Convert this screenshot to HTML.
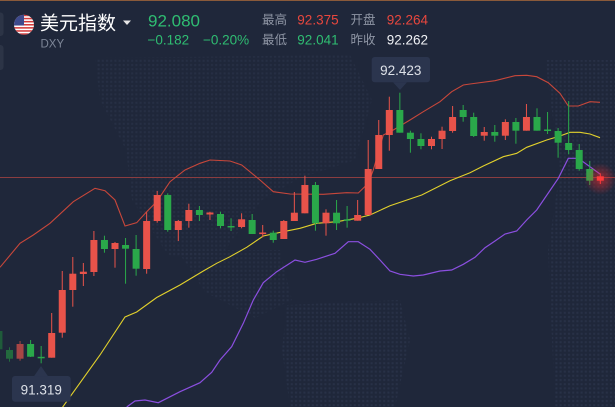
<!DOCTYPE html>
<html><head><meta charset="utf-8"><style>
html,body{margin:0;padding:0;background:#1f273a;width:615px;height:407px;overflow:hidden}
svg{display:block}
text{font-family:"Liberation Sans","Noto Sans CJK SC",sans-serif}
</style></head><body>
<svg width="615" height="407" viewBox="0 0 615 407" xmlns="http://www.w3.org/2000/svg">
<defs>
<pattern id="dots" width="4.2" height="4.2" patternUnits="userSpaceOnUse"><rect x="1" y="1" width="2" height="2" fill="#283147"/></pattern>
<radialGradient id="glow" cx="0.5" cy="0.5" r="0.5"><stop offset="0" stop-color="#ff2a2a" stop-opacity="0.55"/><stop offset="1" stop-color="#ff2a2a" stop-opacity="0"/></radialGradient>
<clipPath id="fc"><circle cx="24" cy="24.7" r="10"/></clipPath>
</defs>
<rect width="615" height="407" fill="#1f273a"/>
<!-- dotted map -->
<polygon points="95,58 350,55 372,100 355,160 300,178 262,200 225,250 200,258 168,255 132,200 126,150 100,100" fill="url(#dots)" opacity="0.8"/>
<polygon points="177,250 280,250 292,300 255,318 205,292" fill="url(#dots)" opacity="0.8"/>
<polygon points="287,305 400,300 410,340 395,407 290,407 282,350" fill="url(#dots)"/>
<polygon points="545,60 615,60 615,407 555,407 548,250 560,170" fill="url(#dots)"/>
<!-- top border -->
<rect x="0" y="0" width="615" height="1" fill="#8a5a3a"/>
<!-- left tabs -->
<rect x="-4" y="12.5" width="7.5" height="23.5" rx="3" fill="#2c3446"/>
<rect x="-4" y="45" width="7.5" height="25" rx="3" fill="#2c3446"/>
<!-- horizontal price line -->
<rect x="0" y="177" width="615" height="1" fill="#8b3d40"/>
<!-- bands -->
<polyline fill="none" stroke="#c8473a" stroke-width="1.1" points="0,267.3 20,243.3 33.3,235 50,223.3 73.3,201.7 95,188.3 105,190.7 115,200 125,226 136.7,222.7 146.7,211.7 156.7,201.7 170,181.7 185,170 200,163.3 210,160 230,161 241.7,165 260,180 273.3,191.7 290,194 323.3,194.3 346.7,192.7 358.3,193 368.3,183.3 373.3,170 383.3,135 393.3,130 410,120 423.3,111.7 440,101.7 451.7,91.7 463.3,85 470,84 495,80.7 515,75.7 526.7,75.3 536.7,76.7 548.3,82.7 560,93.3 568.3,106 578.3,106 590,101.7 600,102.3"/>
<polyline fill="none" stroke="#e2d12c" stroke-width="1.1" points="62,408 100,355 125,317 136.7,312 156.7,297.5 180,285 203.3,271 216.7,263.3 230,256.7 246.7,247.3 263.3,236 283.3,231.7 300,228.3 316.7,223.3 336.7,221.7 356.7,218.3 370,215 390,205.7 421.7,195 450,180.7 470,172.7 483.3,166 503.3,156.7 516.7,153.3 526.7,147.3 546.7,140 560,136 570,132.3 580,132.3 590,134 600,137.7"/>
<polyline fill="none" stroke="#8b4fe0" stroke-width="1.2" points="126.7,407 135,401 145,400 158.3,402.7 180,391.7 200,382.7 211.7,372.3 220,360 231.7,346.7 243.3,323.3 253.3,300 263.3,282.7 276.7,271.7 295,260 305,262.3 316.7,259.3 335,253.3 348.3,241.7 358.3,241.7 370,249.3 380,260 390,271 400,274.3 413.3,276 423.3,275 440,271 451.7,270 463.3,264.3 475,257.3 485,247.7 495,241 505,234 516.7,231 526.7,220 536.7,210 558.3,178.3 568.3,158.3 578.3,158.3 600,174"/>
<!-- dim candles -->
<g fill="#1f5b3a"><rect x="-1.55" y="329" width="1" height="22"/><rect x="-4.55" y="331" width="7" height="18.3"/></g>
<g fill="#236a3e"><rect x="9" y="347.3" width="1" height="14.4"/><rect x="6" y="350" width="7" height="8.7"/></g>
<g fill="#a84545"><rect x="19.55" y="341" width="1" height="19.7"/><rect x="16.55" y="344" width="7" height="14.7"/></g>
<!-- red candles -->
<g fill="#e8534a">
<rect x="51.2" y="313" width="1" height="44.7"/><rect x="48.2" y="333" width="7" height="24.7"/>
<rect x="61.75" y="271" width="1" height="66.7"/><rect x="58.75" y="290" width="7" height="42.7"/>
<rect x="72.3" y="257" width="1" height="49.7"/><rect x="69.3" y="273.7" width="7" height="16.3"/>
<rect x="82.85" y="263" width="1" height="23"/><rect x="79.85" y="271.7" width="7" height="2.3"/>
<rect x="93.4" y="231" width="1" height="45"/><rect x="90.4" y="240" width="7" height="32"/>
<rect x="114.5" y="242" width="1" height="25.7"/><rect x="111.5" y="243" width="7" height="6"/>
<rect x="146.15" y="212.3" width="1" height="61.4"/><rect x="143.15" y="221" width="7" height="48"/>
<rect x="156.7" y="191" width="1" height="31.7"/><rect x="153.7" y="195" width="7" height="26"/>
<rect x="177.8" y="220" width="1" height="21"/><rect x="174.8" y="221" width="7" height="9"/>
<rect x="188.35" y="203.7" width="1" height="24"/><rect x="185.35" y="210" width="7" height="11"/>
<rect x="209.45" y="211.7" width="1" height="8.3"/><rect x="206.45" y="212.5" width="7" height="2"/>
<rect x="241.1" y="213.3" width="1" height="15"/><rect x="238.1" y="219.3" width="7" height="7.7"/>
<rect x="262.2" y="225" width="1" height="12.3"/><rect x="259.2" y="232.5" width="7" height="1.6"/>
<rect x="283.3" y="220" width="1" height="19"/><rect x="280.3" y="221" width="7" height="18"/>
<rect x="293.85" y="192" width="1" height="29"/><rect x="290.85" y="212.7" width="7" height="8.3"/>
<rect x="304.4" y="175.7" width="1" height="37.6"/><rect x="301.4" y="185" width="7" height="28.3"/>
<rect x="325.5" y="209.3" width="1" height="26.4"/><rect x="322.5" y="212.7" width="7" height="10.6"/>
<rect x="357.15" y="200" width="1" height="20.7"/><rect x="354.15" y="215" width="7" height="5.7"/>
<rect x="367.7" y="140" width="1" height="75"/><rect x="364.7" y="169" width="7" height="46"/>
<rect x="378.25" y="120" width="1" height="49"/><rect x="375.25" y="135" width="7" height="34"/>
<rect x="388.8" y="96.7" width="1" height="54"/><rect x="385.8" y="110" width="7" height="25"/>
<rect x="431" y="136.7" width="1" height="12.6"/><rect x="428" y="139" width="7" height="7"/>
<rect x="441.55" y="126.7" width="1" height="22.3"/><rect x="438.55" y="130.7" width="7" height="8.3"/>
<rect x="452.1" y="106" width="1" height="26.7"/><rect x="449.1" y="117" width="7" height="14"/>
<rect x="483.75" y="127" width="1" height="13.7"/><rect x="480.75" y="132" width="7" height="3.7"/>
<rect x="504.85" y="119.3" width="1" height="20.7"/><rect x="501.85" y="122" width="7" height="13.7"/>
<rect x="525.95" y="104" width="1" height="26.7"/><rect x="522.95" y="117" width="7" height="13.7"/>
</g>
<!-- green candles -->
<g fill="#2aa84a">
<rect x="30.1" y="340" width="1" height="17"/><rect x="27.1" y="344" width="7" height="12.7"/>
<rect x="40.65" y="346" width="1" height="17.3"/><rect x="37.65" y="356.8" width="7" height="1.5"/>
<rect x="103.95" y="235.7" width="1" height="17"/><rect x="100.95" y="240" width="7" height="9"/>
<rect x="125.05" y="238" width="1" height="45.7"/><rect x="122.05" y="245" width="7" height="3.7"/>
<rect x="135.6" y="235" width="1" height="40.7"/><rect x="132.6" y="249" width="7" height="19.7"/>
<rect x="167.25" y="193.3" width="1" height="38.4"/><rect x="164.25" y="195" width="7" height="35"/>
<rect x="198.9" y="206" width="1" height="15"/><rect x="195.9" y="210" width="7" height="5"/>
<rect x="220" y="211.7" width="1" height="16.6"/><rect x="217" y="214" width="7" height="12"/>
<rect x="230.55" y="218.3" width="1" height="12.7"/><rect x="227.55" y="226" width="7" height="1.5"/>
<rect x="251.65" y="214" width="1" height="20"/><rect x="248.65" y="220" width="7" height="14"/>
<rect x="272.75" y="230.7" width="1" height="12"/><rect x="269.75" y="232.7" width="7" height="7.3"/>
<rect x="314.95" y="182" width="1" height="48.7"/><rect x="311.95" y="185" width="7" height="38.3"/>
<rect x="336.05" y="200" width="1" height="30"/><rect x="333.05" y="212.7" width="7" height="10.6"/>
<rect x="346.6" y="206" width="1" height="21.7"/><rect x="343.6" y="219.3" width="7" height="1.5"/>
<rect x="399.35" y="92.7" width="1" height="40"/><rect x="396.35" y="110" width="7" height="22.7"/>
<rect x="409.9" y="130.7" width="1" height="22"/><rect x="406.9" y="132.7" width="7" height="6.3"/>
<rect x="420.45" y="133.3" width="1" height="16"/><rect x="417.45" y="139" width="7" height="7"/>
<rect x="462.65" y="105" width="1" height="16.7"/><rect x="459.65" y="110" width="7" height="7"/>
<rect x="473.2" y="112.7" width="1" height="24.3"/><rect x="470.2" y="117" width="7" height="19"/>
<rect x="494.3" y="125" width="1" height="16.7"/><rect x="491.3" y="132" width="7" height="3.7"/>
<rect x="515.4" y="118" width="1" height="25.7"/><rect x="512.4" y="122" width="7" height="8.7"/>
<rect x="536.5" y="108.3" width="1" height="22.4"/><rect x="533.5" y="117" width="7" height="13.7"/>
<rect x="547.05" y="112" width="1" height="22"/><rect x="544.05" y="129.5" width="7" height="1.5"/>
<rect x="557.6" y="128" width="1" height="29.7"/><rect x="554.6" y="131" width="7" height="11.7"/>
<rect x="568.15" y="101" width="1" height="53.3"/><rect x="565.15" y="143" width="7" height="7"/>
<rect x="578.7" y="144" width="1" height="26.7"/><rect x="575.7" y="150" width="7" height="19"/>
<rect x="589.25" y="161" width="1" height="24"/><rect x="586.25" y="169" width="7" height="11.7"/>
</g>
<!-- last candle with glow -->
<circle cx="600.3" cy="179" r="16" fill="url(#glow)"/>
<g fill="#ff3b3b"><rect x="599.8" y="173.3" width="1" height="10.7"/><rect x="596.8" y="176.3" width="7" height="4.4"/></g>
<!-- labels -->
<rect x="371.7" y="57" width="58.3" height="25.3" rx="3" fill="#2b354e"/>
<polygon points="393,82.3 407,82.3 400,90" fill="#2b354e"/>
<text x="400.8" y="75" font-size="13.5" fill="#dde1e8" text-anchor="middle">92.423</text>
<rect x="12" y="376" width="58.7" height="25.7" rx="3" fill="#2b354e"/>
<polygon points="34,376.2 48,376.2 41,366" fill="#2b354e"/>
<text x="41.3" y="394.3" font-size="13.5" fill="#dde1e8" text-anchor="middle">91.319</text>
<!-- header -->
<g clip-path="url(#fc)">
<rect x="14" y="14.7" width="20" height="20" fill="#ffffff"/>
<rect x="14" y="14.7" width="20" height="1.54" fill="#d23b3b"/>
<rect x="14" y="17.8" width="20" height="1.54" fill="#d23b3b"/>
<rect x="14" y="20.9" width="20" height="1.54" fill="#d23b3b"/>
<rect x="14" y="24" width="20" height="1.54" fill="#d23b3b"/>
<rect x="14" y="27.1" width="20" height="1.54" fill="#d23b3b"/>
<rect x="14" y="30.2" width="20" height="1.54" fill="#d23b3b"/>
<rect x="14" y="33.3" width="20" height="1.54" fill="#d23b3b"/>
<rect x="14" y="14.7" width="10" height="10.8" fill="#3d4a8c"/>
</g>
<text x="40" y="29.5" font-size="19" fill="#ffffff">美元指数</text>
<polygon points="123,20.5 131,20.5 127,25" fill="#e6e6e6"/>
<text x="40.5" y="47.7" font-size="11.5" fill="#7e8798">DXY</text>
<text x="148" y="26.7" font-size="17" fill="#2fbd72">92.080</text>
<text x="147.5" y="44.3" font-size="13.5" fill="#2fbd72">−0.182</text>
<text x="203" y="44.3" font-size="13.5" fill="#2fbd72">−0.20%</text>
<text x="262" y="24" font-size="12.5" fill="#8e95a4">最高</text>
<text x="297.3" y="24.3" font-size="13.5" fill="#e8473e">92.375</text>
<text x="350.5" y="24" font-size="12.5" fill="#8e95a4">开盘</text>
<text x="386.7" y="24.3" font-size="13.5" fill="#e8473e">92.264</text>
<text x="262" y="44" font-size="12.5" fill="#8e95a4">最低</text>
<text x="297.3" y="44.3" font-size="13.5" fill="#2fbd72">92.041</text>
<text x="350.5" y="44" font-size="12.5" fill="#8e95a4">昨收</text>
<text x="386.7" y="44.3" font-size="13.5" fill="#f0f2f5">92.262</text>
</svg>
</body></html>
